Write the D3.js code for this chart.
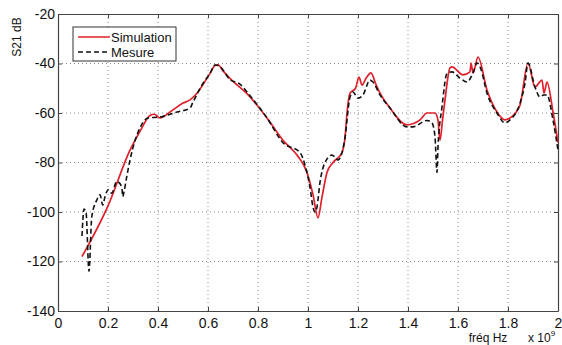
<!DOCTYPE html>
<html>
<head>
<meta charset="utf-8">
<style>
  body { margin: 0; background: #fff; }
  svg { display: block; font-family: "Liberation Sans", Arial, sans-serif; }
</style>
</head>
<body>
<svg width="562" height="345"></svg>
<script src="https://d3js.org/d3.v7.min.js"></script>
<script>
  // frequency in units of 1e9 Hz, S21 in dB
  var simFreq = [0.096, 0.2, 0.288, 0.33, 0.368, 0.385, 0.408, 0.448, 0.5, 0.528, 0.56, 0.58, 0.608, 0.628, 0.64, 0.66, 0.688, 0.768, 0.836, 0.9, 0.956, 0.996, 1.02, 1.04, 1.056, 1.076, 1.1, 1.136, 1.148, 1.156, 1.168, 1.19, 1.204, 1.216, 1.232, 1.252, 1.27, 1.288, 1.328, 1.396, 1.448, 1.476, 1.508, 1.52, 1.528, 1.538, 1.548, 1.568, 1.576, 1.62, 1.648, 1.652, 1.66, 1.68, 1.716, 1.756, 1.788, 1.808, 1.848, 1.88, 1.908, 1.936, 1.944, 1.956, 1.98, 2.0];
  var simDb = [-118, -97.5, -75, -67, -61, -60.5, -62, -59.6, -56, -54.7, -51.5, -48.5, -44, -40.8, -40.5, -43, -46, -53.5, -62, -71, -77, -84, -93, -102.4, -94, -84, -80, -76, -70, -60, -52, -50, -45.5, -48.7, -46, -43.8, -48, -52, -58, -64.8, -62.8, -60, -60, -63, -71, -63, -54.7, -41.8, -41.4, -44.6, -43.4, -39.8, -43.8, -37.4, -50.7, -59.6, -62.8, -62, -56.8, -39.8, -49.5, -46.7, -52, -47.5, -59.6, -72];

  var mesFreq = [0.096, 0.104, 0.112, 0.124, 0.135, 0.155, 0.168, 0.179, 0.188, 0.201, 0.215, 0.235, 0.255, 0.259, 0.264, 0.275, 0.288, 0.328, 0.36, 0.408, 0.476, 0.528, 0.54, 0.58, 0.608, 0.628, 0.645, 0.688, 0.73, 0.768, 0.836, 0.9, 0.968, 0.99, 1.008, 1.02, 1.028, 1.036, 1.048, 1.068, 1.096, 1.108, 1.12, 1.136, 1.148, 1.168, 1.18, 1.2, 1.22, 1.248, 1.26, 1.288, 1.328, 1.396, 1.42, 1.476, 1.496, 1.508, 1.516, 1.52, 1.536, 1.556, 1.576, 1.608, 1.636, 1.66, 1.676, 1.69, 1.716, 1.756, 1.788, 1.808, 1.848, 1.868, 1.88, 1.908, 1.928, 1.943, 1.956, 1.98, 2.0];
  var mesDb = [-109.7, -98.8, -100, -124, -102, -95.2, -93, -97.2, -93.8, -91, -92.4, -87.7, -89.8, -93.8, -91.8, -85.7, -79, -66, -62, -61.6, -59.6, -58, -55.6, -48, -44, -40.6, -41, -46.5, -48.5, -53, -62, -72, -76, -81.8, -90, -98, -100, -98, -88, -80, -77, -77.8, -79, -76, -70, -53.5, -51.5, -54, -52.7, -46.7, -47.5, -52.7, -58, -65.6, -65.6, -63, -64, -69.7, -84, -73.7, -57.6, -44, -43.4, -45.9, -47.5, -43.8, -39.8, -41.8, -52, -60, -64, -62.8, -56, -47.9, -39.8, -49.5, -53.5, -52.7, -52.7, -62.8, -75];

  var xTicks = [0, 0.2, 0.4, 0.6, 0.8, 1, 1.2, 1.4, 1.6, 1.8, 2];
  var yTicks = [-140, -120, -100, -80, -60, -40, -20];
  var seriesNames = ["Simulation", "Mesure"];

  var svg = d3.select("svg"),
      m = {left: 58, right: 558, top: 14, bottom: 311};

  var x = d3.scaleLinear().domain([0, 2]).range([m.left, m.right]);
  var y = d3.scaleLinear().domain([-140, -20]).range([m.bottom, m.top]);

  // grid
  var grid = svg.append("g");
  grid.selectAll(".gx").data(xTicks.slice(1, -1)).enter().append("line")
      .attr("x1", function(d) { return x(d); }).attr("x2", function(d) { return x(d); })
      .attr("y1", m.top).attr("y2", m.bottom);
  grid.selectAll(".gy").data(yTicks.slice(1, -1)).enter().append("line")
      .attr("x1", m.left).attr("x2", m.right)
      .attr("y1", function(d) { return y(d); }).attr("y2", function(d) { return y(d); });
  grid.selectAll("line")
      .attr("stroke", "#8a8a8a").attr("stroke-width", 1).attr("stroke-dasharray", "1,3");

  // axes
  var fmt = function(d) { return String(d); };
  svg.append("g")
      .attr("transform", "translate(0," + m.bottom + ")")
      .call(d3.axisBottom(x).tickValues(xTicks).tickFormat(fmt).tickSizeInner(-4).tickSizeOuter(0).tickPadding(7));
  svg.append("g")
      .attr("transform", "translate(" + m.left + ",0)")
      .call(d3.axisLeft(y).tickValues(yTicks).tickFormat(fmt).tickSizeInner(-4).tickSizeOuter(0).tickPadding(3));
  svg.append("g").attr("transform", "translate(0," + m.top + ")")
      .call(d3.axisTop(x).tickValues(xTicks).tickFormat("").tickSizeInner(-4).tickSizeOuter(0));
  svg.append("g").attr("transform", "translate(" + m.right + ",0)")
      .call(d3.axisRight(y).tickValues(yTicks).tickFormat("").tickSizeInner(-4).tickSizeOuter(0));

  svg.selectAll(".domain").attr("stroke", "#444").attr("stroke-width", 1.2);
  svg.selectAll(".tick line").attr("stroke", "#444");
  svg.selectAll(".tick text").attr("font-size", 14).attr("fill", "#111")
      .attr("font-family", "'Liberation Sans', Arial, sans-serif");

  // curves
  var line = d3.line()
      .curve(d3.curveMonotoneX)
      .x(function(d) { return x(d[0]); })
      .y(function(d) { return y(d[1]); });

  var mesData = mesFreq.map(function(f, i) { return [f, mesDb[i]]; });
  var simData = simFreq.map(function(f, i) { return [f, simDb[i]]; });

  svg.append("path").datum(simData)
      .attr("fill", "none").attr("stroke", "#e0202a").attr("stroke-width", 1.7)
      .attr("stroke-linejoin", "round")
      .attr("d", line);
  svg.append("path").datum(mesData)
      .attr("fill", "none").attr("stroke", "#111").attr("stroke-width", 1.6)
      .attr("stroke-dasharray", "5,3").attr("stroke-linejoin", "round")
      .attr("d", line);

  // legend
  var lg = svg.append("g");
  lg.append("rect").attr("x", 73).attr("y", 27).attr("width", 103).attr("height", 34)
      .attr("fill", "#fff").attr("stroke", "#333").attr("stroke-width", 1);
  var styles = [{c: "#e0202a", dash: null}, {c: "#111", dash: "5,3"}];
  seriesNames.forEach(function(name, i) {
    var yy = 37 + i * 15;
    lg.append("line").attr("x1", 78).attr("x2", 110).attr("y1", yy).attr("y2", yy)
        .attr("stroke", styles[i].c).attr("stroke-width", 1.5)
        .attr("stroke-dasharray", styles[i].dash);
    lg.append("text").attr("x", 111).attr("y", yy + 4.5)
        .attr("font-size", 13).attr("fill", "#111").text(name);
  });

  // labels
  svg.append("text")
      .attr("transform", "translate(21,37) rotate(-90)")
      .attr("text-anchor", "middle").attr("font-size", 12).attr("fill", "#111")
      .text("S21 dB");
  svg.append("text").attr("x", 488).attr("y", 342)
      .attr("text-anchor", "middle").attr("font-size", 12).attr("fill", "#111")
      .text("fréq Hz");
  var pw = svg.append("text").attr("x", 528).attr("y", 342)
      .attr("font-size", 12).attr("fill", "#111");
  pw.append("tspan").text("x 10");
  pw.append("tspan").attr("dy", -6).attr("font-size", 8).text("9");
</script>
</body>
</html>
